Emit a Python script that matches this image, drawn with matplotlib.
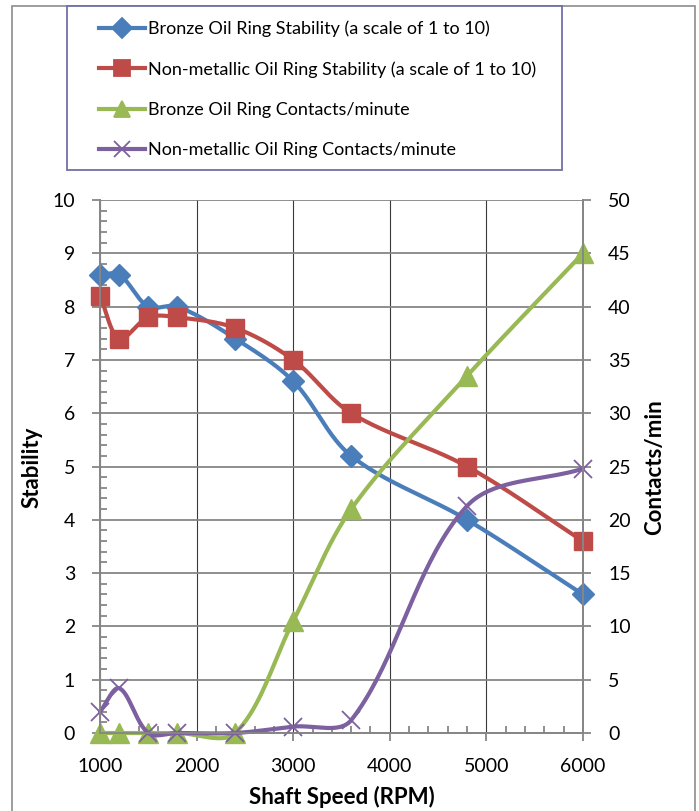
import numpy as np
import matplotlib
matplotlib.use('Agg')
import matplotlib.pyplot as plt
from matplotlib.lines import Line2D
from matplotlib.patches import Rectangle
from matplotlib.ticker import MultipleLocator

plt.rcParams['font.family'] = ['Lato', 'DejaVu Sans']

speed = [1000, 1200, 1500, 1800, 2400, 3000, 3600, 4800, 6000]
bronze_stab = [8.6, 8.6, 8.0, 8.0, 7.4, 6.6, 5.2, 4.0, 2.6]
nonmet_stab = [8.2, 7.4, 7.8, 7.8, 7.6, 7.0, 6.0, 5.0, 3.6]
bronze_cont = [0, 0, 0, 0, 0, 10.5, 21, 33.5, 45]
nonmet_cont = [2, 4.2, 0, 0, 0, 0.6, 1.2, 21.3, 24.8]

labels = ['Bronze Oil Ring Stability (a scale of 1 to 10)',
          'Non-metallic Oil Ring Stability (a scale of 1 to 10)',
          'Bronze Oil Ring Contacts/minute',
          'Non-metallic Oil Ring Contacts/minute']
colors = ['#4A7EBB', '#BE4B48', '#98B954', '#7D60A0']

W, H = 699, 811
L, R, T, B = 100, 583, 200, 733


def smooth(xs, ys, ymax, n=40):
    # smoothed line like excel, worked out in pixel space (chord-length spline)
    px = (np.array(xs, float) - 1000) / 5000 * (R - L)
    py = np.array(ys, float) / ymax * (B - T)
    P = np.column_stack([px, py])
    d = np.hypot(*np.diff(P, axis=0).T)
    out = []
    for i in range(len(P) - 1):
        p1, p2 = P[i], P[i + 1]
        if i > 0:
            c1 = p1 + (p2 - P[i - 1]) * d[i] / (d[i - 1] + d[i]) / 3
        else:
            c1 = p1 + (p2 - p1) / 3
        if i + 2 < len(P):
            c2 = p2 - (P[i + 2] - p1) * d[i] / (d[i] + d[i + 1]) / 3
        else:
            c2 = p2 - (p2 - p1) / 3
        t = np.linspace(0, 1, n)[:, None]
        seg = ((1 - t) ** 3) * p1 + 3 * ((1 - t) ** 2) * t * c1 + 3 * (1 - t) * t ** 2 * c2 + t ** 3 * p2
        out.append(seg if i == 0 else seg[1:])
    S = np.vstack(out)
    return S[:, 0] / (R - L) * 5000 + 1000, S[:, 1] / (B - T) * ymax


fig = plt.figure(figsize=(W / 100, H / 100), dpi=100)
fig.patches.append(Rectangle((12 / W, -0.01), (695 - 12) / W, 1 - 6 / H + 0.01,
                             transform=fig.transFigure, fill=False,
                             edgecolor='#8C8C8C', lw=1.2))

ax = fig.add_axes([L / W, 1 - B / H, (R - L) / W, (B - T) / H])
ax2 = ax.twinx()

ax.set_xlim(1000, 6000)
ax.set_ylim(0, 10)
ax2.set_ylim(0, 50)
ax.xaxis.set_major_locator(MultipleLocator(1000))
ax.xaxis.set_minor_locator(MultipleLocator(200))
ax.yaxis.set_major_locator(MultipleLocator(1))
ax.yaxis.set_minor_locator(MultipleLocator(0.2))
ax2.yaxis.set_major_locator(MultipleLocator(5))

ax.grid(axis='y', color='#868686', lw=1.3)
ax.grid(axis='x', color='#3A3A3A', lw=0.8)
ax.set_axisbelow(True)
for a in (ax, ax2):
    for s in a.spines.values():
        s.set_color('#868686')
        s.set_linewidth(1.3)
    a.spines['top'].set_visible(False)

ax.tick_params(which='major', direction='out', length=6, width=1.3, color='#868686',
               labelsize=14, pad=12)
ax.tick_params(which='minor', direction='in', length=5, width=1.3, color='#868686')
ax2.tick_params(which='major', direction='out', length=6, width=1.3, color='#868686',
                labelsize=14, pad=12)

sx, sy = smooth(speed, bronze_stab, 10)
ax.plot(sx, sy, color=colors[0], lw=3, solid_capstyle='round')
ax.plot(speed, bronze_stab, 'D', color=colors[0], ms=11, clip_on=False)
sx, sy = smooth(speed, nonmet_stab, 10)
ax.plot(sx, sy, color=colors[1], lw=3, solid_capstyle='round')
ax.plot(speed, nonmet_stab, 's', color=colors[1], ms=12.5, clip_on=False)
sx, sy = smooth(speed, bronze_cont, 50)
ax2.plot(sx, sy, color=colors[2], lw=3, solid_capstyle='round', clip_on=False)
ax2.plot(speed, bronze_cont, '^', color=colors[2], ms=14, clip_on=False)
sx, sy = smooth(speed, nonmet_cont, 50)
ax2.plot(sx, sy, color=colors[3], lw=3, solid_capstyle='round', clip_on=False)
ax2.plot(speed, nonmet_cont, 'x', color=colors[3], ms=13, mew=1.3, clip_on=False)

fig.text(32 / W, 1 - 467 / H, 'Stability', rotation=90, fontsize=16,
         fontweight='bold', ha='center', va='center')
fig.text(655 / W, 1 - 467 / H, 'Contacts/min', rotation=90, fontsize=16,
         fontweight='bold', ha='center', va='center')
fig.text(342 / W, 1 - 797 / H, 'Shaft Speed (RPM)', fontsize=16,
         fontweight='bold', ha='center', va='center')

# legend box
fig.patches.append(Rectangle((67 / W, 1 - 170 / H), (562 - 67) / W, (170 - 6) / H,
                             transform=fig.transFigure, facecolor='white',
                             edgecolor='#6F6FA8', lw=1.3, zorder=5))
markers = ['D', 's', '^', 'x']
sizes = [10, 11, 12, 12]
handles = [Line2D([], [], color=c, lw=3, marker=m, ms=s, mew=1.3)
           for c, m, s in zip(colors, markers, sizes)]
leg = fig.legend(handles, labels, loc='upper left', bbox_to_anchor=(85 / W, 1 - 6 / H),
                 frameon=False, fontsize=13, handlelength=2.55, handletextpad=0.15,
                 labelspacing=1.34, borderpad=0.3)
leg.set_zorder(6)

fig.savefig('out.png', dpi=100)
